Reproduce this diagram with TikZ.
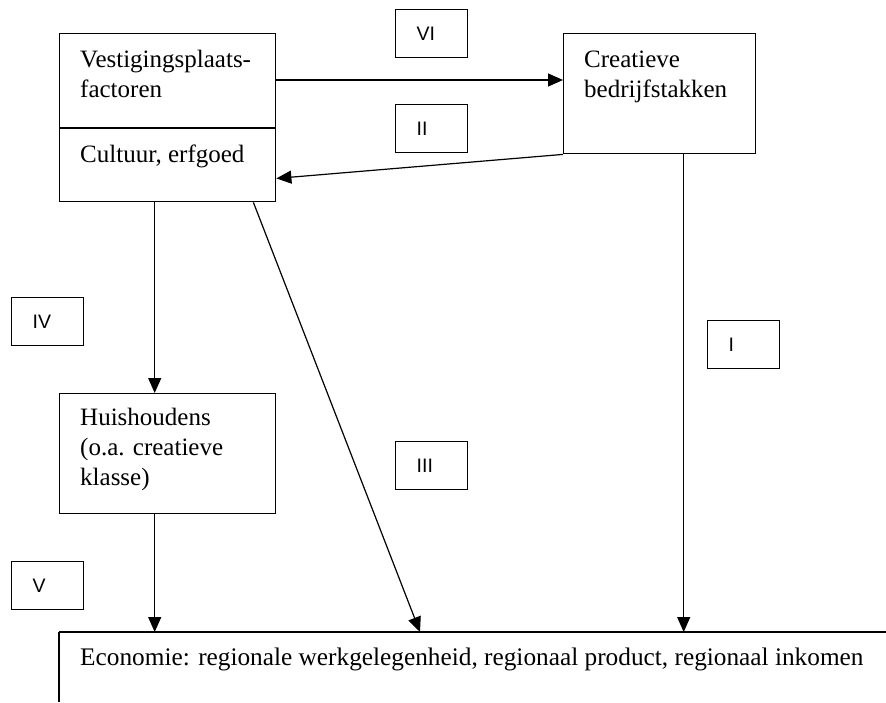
\documentclass[tikz,border=0pt]{standalone}
\usepackage{fontspec}
\setmainfont{Liberation Serif}
\newfontfamily\numfont{Liberation Sans}
\usetikzlibrary{arrows.meta,calc}
\begin{document}
\begin{tikzpicture}[x=1pt,y=-1pt,
  box/.style={draw,line width=1.4pt,rectangle,inner sep=0pt,anchor=north west},
  txt/.style={inner sep=0pt,anchor=north west,align=left,font=\fontsize{25}{30}\selectfont},
  numbox/.style={draw,line width=1.4pt,rectangle,anchor=north west,minimum width=72pt,minimum height=48pt,inner xsep=21pt,inner ysep=0pt,text width=30pt,align=left,font=\numfont\fontsize{19.5}{22}\selectfont},
  arr/.style={line width=1.2pt,-{Triangle[length=15pt,width=13pt]}}]
\useasboundingbox (0,0) rectangle (886,702);

% main boxes
\node[box,minimum width=216pt,minimum height=168pt] (vest) at (59,33) {};
\coordinate (dl) at ([yshift=-95pt]vest.north west);
\draw[line width=1.4pt] (dl) -- (dl -| vest.east);
\node[box,minimum width=192pt,minimum height=120pt] (creat) at (563,33) {};
\node[box,minimum width=216pt,minimum height=120pt] (huis) at (59,393) {};
\node[inner sep=0pt,anchor=north west,minimum width=827pt,minimum height=70pt] (econ) at (59,632) {};
\draw[line width=1.6pt] (econ.south west) -- (econ.north west);
\draw[line width=2.2pt] (econ.north west) -- (econ.north east);

% texts
\node[txt] (tvest) at (80,46) {\strut Vestigingsplaats-\\factoren};
\node[txt] (tcult) at (80,141) {\strut Cultuur, erfgoed};
\node[txt] (tcreat) at (584,46) {\strut Creatieve\\bedrijfstakken};
\node[txt] (thuis) at (80,404) {\strut Huishoudens\\(o.a. creatieve\\klasse)};
\node[txt,font=\fontsize{25.3}{30}\selectfont] (tecon) at (80,644) {\strut Economie: regionale werkgelegenheid, regionaal product, regionaal inkomen};

% numeral labels
\node[numbox] (nVI) at (395,9) {VI};
\node[numbox] (nII) at (395,104) {II};
\node[numbox] (nIV) at (11,297) {IV};
\node[numbox] (nIII) at (395,441) {III};
\node[numbox] (nI) at (707,320) {I};
\node[numbox] (nV) at (11,561) {V};

% connectors
\coordinate (a1) at ([yshift=-47pt]vest.north east);
\draw[arr] (a1) -- (a1 -| creat.west);
\coordinate (a2) at ([yshift=24pt]vest.south east);
\draw[arr] (creat.south west) -- (a2);
\coordinate (a3) at ([xshift=-13pt]vest.south);
\draw[arr] (a3) -- (a3 |- huis.north);
\coordinate (a4) at ([xshift=-13pt]huis.south);
\draw[arr] (a4) -- (a4 |- econ.north);
\coordinate (a5) at ([xshift=-23pt]vest.south east);
\coordinate (a5e) at ([xshift=361pt]econ.north west);
\draw[arr] (a5) -- (a5e);
\coordinate (a6) at ([xshift=24pt]creat.south);
\draw[arr] (a6) -- (a6 |- econ.north);
\end{tikzpicture}
\end{document}
